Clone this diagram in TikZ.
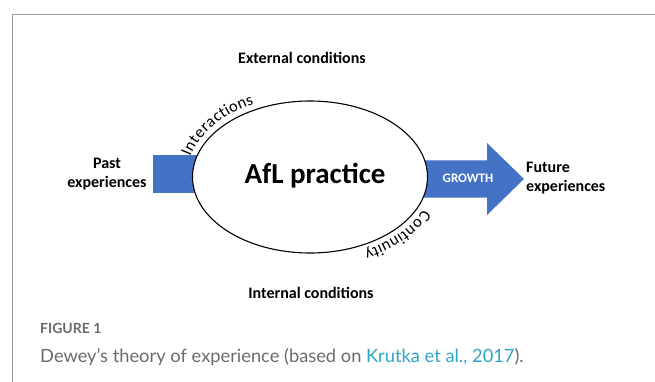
\documentclass[tikz,border=0pt]{standalone}
\usepackage{fontspec}
\setmainfont{Carlito}
\newfontfamily\capfont{Lato}
\usetikzlibrary{shapes.geometric}
\usetikzlibrary{positioning}
\usetikzlibrary{decorations.text}

\definecolor{arrowblue}{HTML}{4472C4}
\definecolor{capgray}{HTML}{6A6B6E}
\definecolor{citeblue}{HTML}{2FA6C1}
\definecolor{framegray}{HTML}{9A9A9A}

\begin{document}
\begin{tikzpicture}[x=1pt, y=1pt]
\tikzset{
   node distance = 5pt,
   cond/.style = {font = \bfseries\fontsize{16}{19}\selectfont, align = center, inner sep = 0pt},
   practice/.style = {ellipse, draw, line width = 1.1pt, fill = white, minimum width = 235, minimum height = 152, inner sep = 0pt},
   block/.style = {rectangle, fill = arrowblue, inner sep = 0pt},
   bend/.style = {decorate, decoration = {text along path, text align = center, raise = 6pt, text = {#1}}}
 }
  \useasboundingbox (0,0) rectangle (655,-382);
  \draw[framegray, line width = 1pt] (12,-382) -- (12,-14.5) -- (655,-14.5);

  % blocks behind the ellipse
  \node[block, minimum width = 62, minimum height = 38] (past) at (184,-174) {};
  \fill[arrowblue] (400,-160.5) -- (487,-160.5) -- (487,-143) -- (524,-179)
        -- (487,-215) -- (487,-197.5) -- (400,-197.5) -- cycle;

  \node[practice] (afl) at (310,-177) {};
  \node[font = \bfseries\fontsize{29}{33}\selectfont] (afltext) at (315,-176) {AfL practice};
  \node[font = \bfseries\fontsize{13}{15}\selectfont, text = white] (growth) at (468,-178) {GROWTH};

  \node[cond] (ext) at (302,-58) {External conditions};
  \node[cond] (int) at (311,-293) {Internal conditions};
  \node[cond, left = of past.west, anchor = east, xshift = -1pt] (pastexp) {Past\\experiences};
  \node[cond, align = left, anchor = west] (futexp) at (526,-178) {Future\\experiences};

  % words bent round the ellipse
  \path[bend = {|\fontsize{16.5}{19}\selectfont|Interactions}]
        (afl.center) ++(174:117.5 and 76) arc[start angle = 174, end angle = 112, x radius = 117.5, y radius = 76];
  \path[bend = {|\fontsize{16.5}{19}\selectfont|Continuity}]
        (afl.center) ++(-8:117.5 and 76) arc[start angle = -8, end angle = -74, x radius = 117.5, y radius = 76];

  % caption
  \node[anchor = west, inner sep = 0pt, text = capgray, font = \capfont\bfseries\fontsize{14}{16}\selectfont] (fig) at (40,-328) {FIGURE 1};
  \node[anchor = west, inner sep = 0pt, text = capgray, font = \capfont\fontsize{18.3}{21}\selectfont] (cap) at (40,-357)
        {Dewey’s theory of experience (based on \textcolor{citeblue}{Krutka et al., 2017}).};
\end{tikzpicture}
\end{document}
